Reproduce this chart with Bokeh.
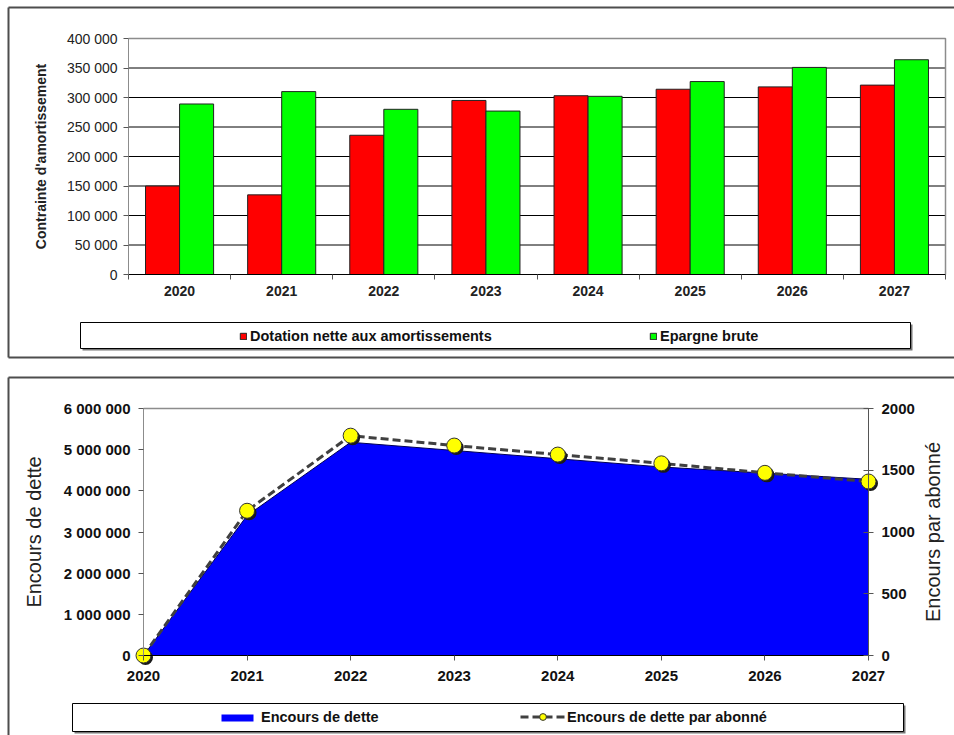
import math
from bokeh.plotting import figure
from bokeh.models import (Range1d, LinearAxis, FixedTicker, CustomJSTickFormatter,
                          BasicTickFormatter, Legend, LegendItem, ColumnDataSource)
from bokeh.core.properties import value
from bokeh.transform import dodge
from bokeh.layouts import column
from bokeh.embed import file_html
from bokeh.resources import INLINE

# ---------------- data ----------------
years = ["2020", "2021", "2022", "2023", "2024", "2025", "2026", "2027"]
dotation = [150000, 135000, 236000, 295000, 303000, 314000, 318000, 321000]
epargne = [289000, 310000, 280000, 277000, 302000, 327000, 351000, 364000]
y1_ticks = [0, 50000, 100000, 150000, 200000, 250000, 300000, 350000, 400000]

year_num = [2020, 2021, 2022, 2023, 2024, 2025, 2026, 2027]
encours = [0, 3400000, 5180000, 4980000, 4780000, 4580000, 4430000, 4280000]
par_abonne = [0, 1172, 1780, 1700, 1627, 1556, 1479, 1409]
y2_ticks = [0, 1000000, 2000000, 3000000, 4000000, 5000000, 6000000]
y2r_ticks = [0, 500, 1000, 1500, 2000]

FONT = "Liberation Sans"
W = 954
H1 = 367
H2 = 368


def lin_range(v0, v1, p0, p1, size):
    k = (v1 - v0) / (p1 - p0)
    start = v0 - p0 * k
    return Range1d(start=start, end=start + size * k)


space_fmt = CustomJSTickFormatter(
    code="return Math.round(tick).toString().replace(/\\B(?=(\\d{3})+(?!\\d))/g, ' ');")

leg_style = dict(border_line_color=None, background_fill_alpha=0, padding=0, margin=0,
                 spacing=0, label_text_font=FONT, label_text_font_style="bold",
                 label_text_font_size="14.5px", label_text_color="#111111")

# ================= chart 1: bars =================
n = len(years)
top1 = y1_ticks[-1]
p1 = figure(width=W, height=H1,
            x_range=lin_range(0, n, 128, 945, W),
            y_range=lin_range(0, top1, H1 - 274, H1 - 38, H1),
            x_axis_type=None, y_axis_type=None, toolbar_location=None,
            output_backend="svg", min_border=0, outline_line_color=None,
            background_fill_color="white", border_fill_color="white")
p1.extra_x_ranges = {"px": Range1d(0, W)}
p1.extra_y_ranges = {"py": Range1d(H1, 0)}

# outer frame (left, top, bottom)
p1.multi_line(xs=[[8, W], [8, 8], [8, W]], ys=[[7, 7], [7, 357], [357, 357]],
              x_range_name="px", y_range_name="py", line_color="#4d4d4d", line_width=2)

# gridlines + plot area border
p1.segment(x0=0, x1=n, y0=y1_ticks[1:-1], y1=y1_ticks[1:-1], line_color="black", line_width=1)
p1.line(x=[0, n, n], y=[top1, top1, 0], line_color="#8c8c8c", line_width=1.5)

src1 = ColumnDataSource(dict(x=[i + 0.5 for i in range(n)], dot=dotation, epa=epargne))
r_red = p1.vbar(x=dodge("x", -1 / 6, range=p1.x_range), top="dot", width=1 / 3, source=src1,
                fill_color="#FF0000", line_color="#222222", line_width=1)
r_green = p1.vbar(x=dodge("x", 1 / 6, range=p1.x_range), top="epa", width=1 / 3, source=src1,
                  fill_color="#00FF00", line_color="#222222", line_width=1)

ay1 = LinearAxis(fixed_location=0, bounds=(0, top1),
                 ticker=FixedTicker(ticks=y1_ticks, minor_ticks=[]), formatter=space_fmt,
                 axis_line_color="#8c8c8c", major_tick_line_color="#555555",
                 major_tick_out=5, major_tick_in=0, minor_tick_out=0, minor_tick_in=0,
                 major_label_text_font=FONT, major_label_text_font_size="14px",
                 major_label_text_color="#222222", major_label_standoff=6,
                 axis_label="Contrainte d'amortissement", axis_label_text_font=FONT,
                 axis_label_text_font_style="bold", axis_label_text_font_size="14px",
                 axis_label_text_color="#222222", axis_label_standoff=15)
p1.add_layout(ay1, "left")

ax1 = LinearAxis(fixed_location=0, bounds=(0, n),
                 ticker=FixedTicker(ticks=[i + 0.5 for i in range(n)], minor_ticks=list(range(n + 1))),
                 formatter=CustomJSTickFormatter(args=dict(labels=years),
                                                 code="const l = labels[Math.floor(tick)]; return l === undefined ? '' : l;"),
                 axis_line_color="black", major_tick_in=0, major_tick_out=0,
                 minor_tick_in=0, minor_tick_out=5, minor_tick_line_color="#555555",
                 major_label_text_font=FONT, major_label_text_font_size="14px",
                 major_label_text_font_style="bold", major_label_text_color="#222222",
                 major_label_standoff=6)
p1.add_layout(ax1, "below")

# legend box
p1.quad(left=82, right=912, top=324, bottom=350, x_range_name="px", y_range_name="py",
        fill_color="#777777", line_color=None)
p1.quad(left=80, right=910, top=322, bottom=348, x_range_name="px", y_range_name="py",
        fill_color="white", line_color="black", line_width=1)

leg1 = Legend(items=[LegendItem(label="Dotation nette aux amortissements", renderers=[r_red])],
              location=(239, 23), glyph_width=8, glyph_height=8, label_standoff=3,
              label_height=8, **leg_style)
leg2 = Legend(items=[LegendItem(label="Epargne brute", renderers=[r_green])],
              location=(649, 23), glyph_width=8, glyph_height=8, label_standoff=3,
              label_height=8, **leg_style)
p1.add_layout(leg1)
p1.add_layout(leg2)

# ================= chart 2: area + line =================
x0, x1 = year_num[0], year_num[-1]
top2 = y2_ticks[-1]
top2r = y2r_ticks[-1]
p2 = figure(width=W, height=H2,
            x_range=lin_range(x0, x1, 143, 868, W),
            y_range=lin_range(0, top2, H2 - 288, H2 - 41, H2),
            x_axis_type=None, y_axis_type=None, toolbar_location=None,
            output_backend="svg", min_border=0, outline_line_color=None,
            background_fill_color="white", border_fill_color="white")
p2.extra_x_ranges = {"px": Range1d(0, W)}
p2.extra_y_ranges = {"py": Range1d(H2, 0),
                     "right": lin_range(0, top2r, H2 - 288, H2 - 41, H2)}

p2.multi_line(xs=[[8, W], [8, 8]], ys=[[10, 10], [10, H2]],
              x_range_name="px", y_range_name="py", line_color="#4d4d4d", line_width=2)

src2 = ColumnDataSource(dict(yr=year_num, enc=encours, abo=par_abonne))
r_area = p2.varea(x="yr", y1=0, y2="enc", source=src2, fill_color="#0000FF")
p2.line(x="yr", y="enc", source=src2, line_color="#000055", line_width=1)
p2.line(x=[x0, x1], y=[top2, top2], line_color="#8c8c8c", line_width=1.5)

r_dash = p2.line(x="yr", y="abo", source=src2, y_range_name="right",
                 line_color="#404040", line_width=3, line_dash="8 4")
sx = 2 * (x1 - x0) / (868 - 143)
sy = -2 * top2r / (288 - 41)
p2.scatter(x=dodge("yr", sx), y=dodge("abo", sy), source=src2, y_range_name="right",
           size=15, fill_color="#1a1a1a", line_color=None)
r_mark = p2.scatter(x="yr", y="abo", source=src2, y_range_name="right", size=15,
                    fill_color="#FFFF00", line_color="#333333", line_width=1)

ay2 = LinearAxis(fixed_location=x0, bounds=(0, top2),
                 ticker=FixedTicker(ticks=y2_ticks, minor_ticks=[]), formatter=space_fmt,
                 axis_line_color="#8c8c8c", major_tick_line_color="#555555",
                 major_tick_out=5, major_tick_in=0, minor_tick_out=0, minor_tick_in=0,
                 major_label_text_font=FONT, major_label_text_font_size="15px",
                 major_label_text_font_style="bold", major_label_text_color="#111111",
                 major_label_standoff=8,
                 axis_label="Encours de dette", axis_label_text_font=FONT,
                 axis_label_text_font_style="normal", axis_label_text_font_size="20px",
                 axis_label_text_color="#222222", axis_label_standoff=16)
p2.add_layout(ay2, "left")

ay2r = LinearAxis(y_range_name="right", fixed_location=x1, bounds=(0, top2r),
                  ticker=FixedTicker(ticks=y2r_ticks, minor_ticks=[]),
                  formatter=BasicTickFormatter(use_scientific=False),
                  axis_line_color="#555555", major_tick_line_color="#555555",
                  major_tick_out=5, major_tick_in=5, minor_tick_out=0, minor_tick_in=0,
                  major_label_text_font=FONT, major_label_text_font_size="15px",
                  major_label_text_font_style="bold", major_label_text_color="#111111",
                  major_label_standoff=8)
p2.add_layout(ay2r, "right")

# right axis title, reading bottom-to-top as in the reference
p2.text(x=[932], y=[(41 + 288) / 2], text=["Encours par abonné"], angle=math.pi / 2,
        x_range_name="px", y_range_name="py", text_align="center", text_baseline="middle",
        text_font=value(FONT), text_font_size="20px", text_color="#222222")

ax2 = LinearAxis(fixed_location=0, bounds=(x0, x1),
                 ticker=FixedTicker(ticks=year_num, minor_ticks=[]),
                 formatter=BasicTickFormatter(use_scientific=False),
                 axis_line_color="black", major_tick_line_color="#555555",
                 major_tick_in=0, major_tick_out=5, minor_tick_in=0, minor_tick_out=0,
                 major_label_text_font=FONT, major_label_text_font_size="15px",
                 major_label_text_font_style="bold", major_label_text_color="#111111",
                 major_label_standoff=10)
p2.add_layout(ax2, "below")

p2.quad(left=74, right=905, top=338, bottom=366, x_range_name="px", y_range_name="py",
        fill_color="#777777", line_color=None)
p2.quad(left=72, right=903, top=336, bottom=364, x_range_name="px", y_range_name="py",
        fill_color="white", line_color="black", line_width=1)

legA = Legend(items=[LegendItem(label="Encours de dette", renderers=[r_area])],
              location=(217, 10), glyph_width=40, glyph_height=9, label_standoff=4,
              label_height=9, **leg_style)
legB = Legend(items=[LegendItem(label="Encours de dette par abonné", renderers=[r_dash, r_mark])],
              location=(520, 10), glyph_width=45, glyph_height=17, label_standoff=2,
              label_height=17, **leg_style)
p2.add_layout(legA)
p2.add_layout(legB)

layout = column(p1, p2, spacing=0)
open("out.html", "w").write(file_html(layout, INLINE))
